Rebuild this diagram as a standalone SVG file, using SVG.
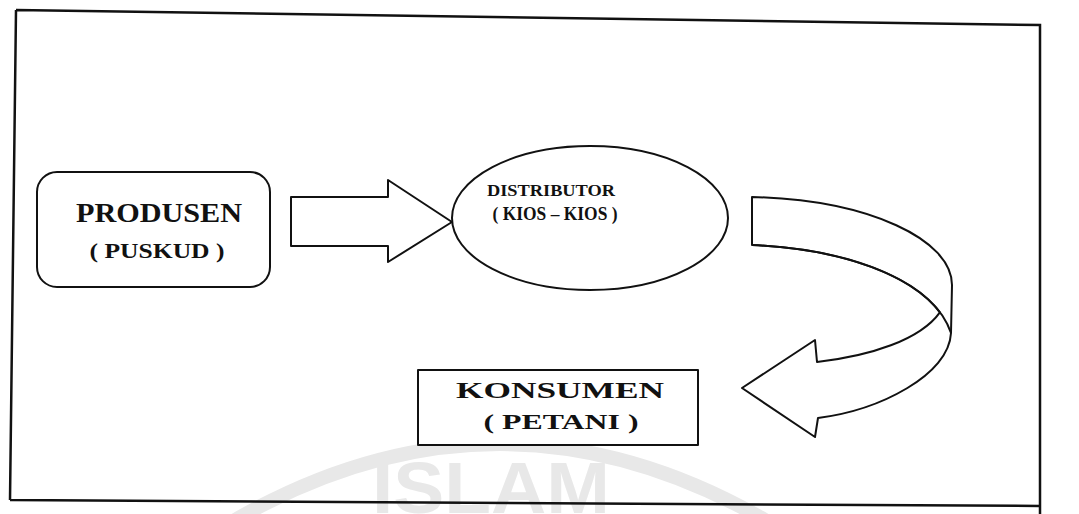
<svg xmlns="http://www.w3.org/2000/svg" width="1079" height="514" viewBox="0 0 1079 514">
  <style>
    .shape { fill: #ffffff; stroke: #111111; stroke-width: 2; stroke-linejoin: round; }
    .edge { fill: none; stroke: #111111; stroke-width: 2; }
    .label { font-family: "Liberation Serif", "Times New Roman", serif; font-weight: bold; fill: #111111; text-anchor: middle; }
    .mark { fill: none; stroke: #e8e8e8; stroke-width: 14; }
    .markText { font-family: "Liberation Sans", Arial, sans-serif; font-weight: bold; fill: #e8e8e8; }
  </style>
  <rect width="1079" height="514" fill="#ffffff"/>

  <!-- faint seal in the background -->
  <g id="seal">
    <path class="mark" d="M235,520 Q500,368 765,520"/>
    <text class="markText" x="372" y="513" font-size="72" textLength="238" lengthAdjust="spacingAndGlyphs">ISLAM</text>
  </g>

  <!-- page frame -->
  <path id="frame" fill="none" stroke="#111111" stroke-width="2.5" d="M16,10 L1040,25 L1040,516 M10,500 L1040,506 M16,10 L10,500"/>

  <g id="produsen">
    <rect class="shape" x="37" y="172" width="233" height="115" rx="20"/>
    <text class="label" x="159" y="222" font-size="27" textLength="166" lengthAdjust="spacingAndGlyphs">PRODUSEN</text>
    <text class="label" x="157" y="258" font-size="22" textLength="135" lengthAdjust="spacingAndGlyphs">( PUSKUD )</text>
  </g>

  <g id="distributor">
    <ellipse class="shape" cx="590" cy="218" rx="138" ry="72"/>
    <text class="label" x="551" y="196" font-size="16" textLength="128" lengthAdjust="spacingAndGlyphs">DISTRIBUTOR</text>
    <text class="label" x="555" y="220" font-size="18" textLength="125" lengthAdjust="spacingAndGlyphs">( KIOS – KIOS )</text>
  </g>

  <g id="konsumen">
    <rect class="shape" x="418" y="370" width="280" height="75"/>
    <text class="label" x="560" y="398" font-size="24" textLength="208" lengthAdjust="spacingAndGlyphs">KONSUMEN</text>
    <text class="label" x="561" y="429" font-size="20" textLength="155" lengthAdjust="spacingAndGlyphs">( PETANI )</text>
  </g>

  <g id="connectors">
    <!-- block arrow: produsen to distributor -->
    <path class="shape" d="M291,197 L388,197 L388,180 L452,222 L388,262 L388,246 L291,246 Z"/>
    <!-- curled ribbon arrow: distributor to konsumen -->
    <path class="shape" d="M752,197 C870,200 952,240 952,285 L951,333 C949,375 880,410 818,418 L815,437 L742,388 L815,340 L817,362 C870,356 920,340 939.9,312.3 C911.8,275.2 843.8,249.25 752,245 Z"/>
    <path class="edge" d="M752,245 C860,250 935,285 951,333"/>
  </g>
</svg>
